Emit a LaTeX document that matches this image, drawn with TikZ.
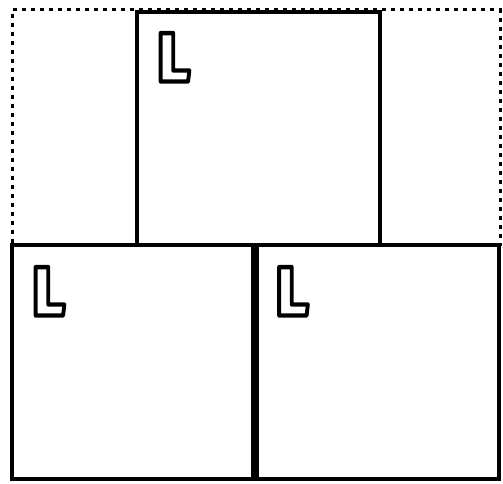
\documentclass[tikz,border=0pt]{standalone}
\usepackage{fontspec}
\usepackage{graphicx}
\newfontfamily\lfont{Fira Sans Black}
\tikzset{
  panel/.style={draw=black, line width=2pt, fill=white, inner sep=0pt, outer sep=0pt},
  frame/.style={draw=black, line width=1.5pt, dash pattern=on 2pt off 2.5pt, inner sep=0pt, outer sep=0pt},
  lmark/.style={inner sep=0pt, outer sep=0pt, anchor=base west, text=black,
    font=\lfont\fontsize{34.8}{34.8}\selectfont}
}
\newcommand{\outL}{\scalebox{0.88}[1]{\special{pdf:literal 1 Tr 2.2 w 1 j}L\special{pdf:literal 0 Tr}}}
\begin{document}
\begin{tikzpicture}[x=0.5pt,y=-0.5pt]
  \useasboundingbox[fill=white] (0,0) rectangle (503,483);
  % dashed outer frame
  \node[frame, minimum width=244pt, minimum height=117.5pt] (frm) at (256,127) {};
  % top box
  \node[panel, minimum width=121.5pt, minimum height=117pt] (top) at (258.5,128.5) {};
  % bottom boxes
  \node[panel, minimum width=120.5pt, minimum height=117pt] (bl) at (132.5,362) {};
  \node[panel, minimum width=121pt, minimum height=117pt] (br) at (377.5,362) {};
  % L marks
  \node[lmark] (Ltop) at ([xshift=10.5pt,yshift=-35pt]top.north west) {\outL};
  \node[lmark] (Lbl) at ([xshift=10.5pt,yshift=-35.25pt]bl.north west) {\outL};
  \node[lmark] (Lbr) at ([xshift=10pt,yshift=-35.25pt]br.north west) {\outL};
\end{tikzpicture}
\end{document}
